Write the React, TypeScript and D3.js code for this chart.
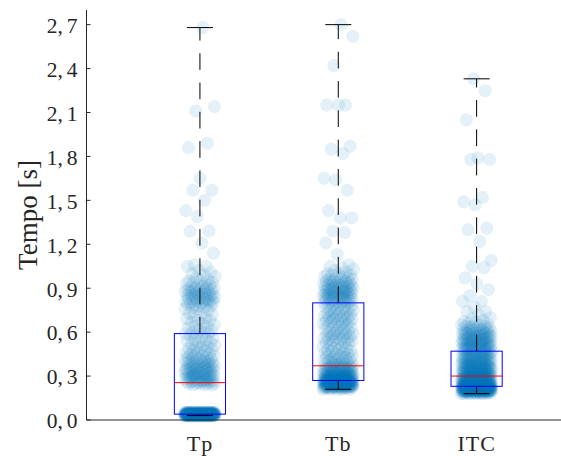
import React from "react";
import * as d3 from "d3";

// Category names along the x axis
const categories = ["Tp", "Tb", "ITC"];
// Y axis ticks [s]
const yTicks = [0, 0.3, 0.6, 0.9, 1.2, 1.5, 1.8, 2.1, 2.4, 2.7];

// Measured times [s], as [value, number of runs with that value]
const tpTimes: [number, number][] = [
  [0.03, 48], [0.04, 104], [0.05, 40],
  [0.24, 3], [0.25, 5],
  [0.26, 5], [0.27, 4], [0.28, 5], [0.29, 5], [0.3, 5], [0.31, 5], [0.32, 4], [0.33, 5], [0.34, 4], [0.35, 5],
  [0.36, 4], [0.37, 4], [0.38, 4], [0.39, 4], [0.4, 3], [0.41, 3], [0.42, 3], [0.43, 2], [0.44, 3], [0.45, 2],
  [0.46, 2], [0.47, 2], [0.48, 1], [0.49, 2], [0.5, 2], [0.51, 2], [0.52, 1], [0.53, 2], [0.54, 1], [0.55, 2],
  [0.56, 1], [0.57, 1], [0.58, 1], [0.59, 3],
  [0.6, 2], [0.61, 1], [0.62, 1], [0.63, 1], [0.64, 2], [0.65, 1], [0.66, 1], [0.67, 1], [0.68, 2], [0.69, 1],
  [0.7, 1], [0.71, 1], [0.72, 2], [0.73, 1],
  [0.75, 1], [0.76, 2], [0.77, 2], [0.78, 2], [0.79, 3], [0.8, 3], [0.81, 3], [0.82, 3], [0.83, 3], [0.84, 3],
  [0.85, 4], [0.86, 4], [0.87, 3], [0.88, 3], [0.89, 3], [0.9, 3], [0.91, 2], [0.92, 2], [0.93, 2], [0.94, 2],
  [0.95, 2], [0.96, 1], [0.97, 1], [0.98, 1], [0.99, 1], [1.0, 1], [1.01, 1], [1.02, 1],
  [1.05, 2], [1.06, 1], [1.14, 1], [1.21, 1], [1.29, 2], [1.39, 1], [1.43, 1], [1.5, 1], [1.57, 2], [1.65, 1],
  [1.86, 1], [1.89, 1], [2.11, 1], [2.14, 1], [2.68, 1],
];

const tbTimes: [number, number][] = [
  [0.21, 5], [0.22, 11], [0.23, 19], [0.24, 22], [0.25, 22], [0.26, 20], [0.27, 18],
  [0.28, 14], [0.29, 13], [0.3, 11], [0.31, 9], [0.32, 8], [0.33, 7], [0.34, 7], [0.35, 6], [0.36, 6], [0.37, 5],
  [0.38, 3], [0.39, 3], [0.4, 3], [0.41, 3], [0.42, 2], [0.43, 3], [0.44, 2], [0.45, 3], [0.46, 2], [0.47, 2],
  [0.48, 2], [0.49, 2], [0.5, 2], [0.51, 1], [0.52, 2], [0.53, 2], [0.54, 2], [0.55, 3], [0.56, 2], [0.57, 3],
  [0.58, 2], [0.59, 3], [0.6, 2], [0.61, 2], [0.62, 2], [0.63, 2], [0.64, 2], [0.65, 2], [0.66, 2], [0.67, 3],
  [0.68, 2], [0.69, 3], [0.7, 2], [0.71, 3], [0.72, 2], [0.73, 2], [0.74, 2], [0.75, 3], [0.76, 2], [0.77, 2],
  [0.78, 2], [0.79, 2], [0.8, 3],
  [0.81, 4], [0.82, 4], [0.83, 5], [0.84, 4], [0.85, 5], [0.86, 4], [0.87, 5], [0.88, 4], [0.89, 5], [0.9, 4],
  [0.91, 4], [0.92, 4], [0.93, 4], [0.94, 3], [0.95, 3], [0.96, 3], [0.97, 2], [0.98, 2], [0.99, 2], [1.0, 2],
  [1.01, 1], [1.02, 1], [1.03, 1], [1.04, 1], [1.05, 1], [1.06, 1],
  [1.13, 1], [1.21, 1], [1.28, 1], [1.29, 1], [1.38, 2], [1.43, 1], [1.57, 1], [1.64, 1], [1.65, 1], [1.82, 1],
  [1.85, 1], [1.87, 1], [2.15, 3], [2.42, 1], [2.62, 1], [2.7, 1],
];

const itcTimes: [number, number][] = [
  [0.18, 8], [0.19, 18], [0.2, 28], [0.21, 32], [0.22, 34], [0.23, 30], [0.24, 22], [0.25, 20], [0.26, 16],
  [0.27, 14], [0.28, 13], [0.29, 12], [0.3, 10], [0.31, 10], [0.32, 10], [0.33, 9], [0.34, 9], [0.35, 8],
  [0.36, 8], [0.37, 8], [0.38, 7], [0.39, 7], [0.4, 7], [0.41, 7], [0.42, 6], [0.43, 6], [0.44, 5], [0.45, 5],
  [0.46, 5], [0.47, 5],
  [0.48, 6], [0.49, 6], [0.5, 6], [0.51, 6], [0.52, 6], [0.53, 6], [0.54, 6], [0.55, 6], [0.56, 5], [0.57, 5],
  [0.58, 5], [0.59, 5], [0.6, 5], [0.61, 4], [0.62, 4], [0.63, 3], [0.64, 3], [0.65, 2], [0.66, 2], [0.67, 2],
  [0.68, 1], [0.69, 1], [0.7, 1],
  [0.72, 1], [0.74, 2], [0.77, 1], [0.81, 2], [0.85, 1], [0.89, 1], [0.93, 1], [0.97, 1], [1.04, 1], [1.05, 1],
  [1.09, 1], [1.22, 1], [1.3, 1], [1.31, 1], [1.47, 1], [1.49, 1], [1.52, 1], [1.78, 2], [1.79, 1], [2.05, 1],
  [2.25, 1], [2.33, 1],
];

const WIDTH = 561;
const HEIGHT = 456;
const AXIS_COLOR = "#262626";
const POINT_COLOR = "#0072BD";
const FONT = "'Liberation Serif', 'Times New Roman', serif";

const expand = (pairs: [number, number][]) =>
  pairs.flatMap(([v, n]) => Array.from({ length: n }, () => v));

// Deterministic horizontal spread in [-1, 1) (golden-ratio sequence)
const spread = (i: number) => ((i * 0.6180339887498949) % 1) * 2 - 1;

export default function App() {
  const x = d3.scaleLinear().domain([0.18, 3.61]).range([86.5, 561]);
  const y = d3.scaleLinear().domain([0, 2.8]).range([420, 10]);

  const groups = [tpTimes, tbTimes, itcTimes].map(expand);
  const stats = groups.map((vals) => ({
    min: d3.min(vals) as number,
    q1: d3.quantile(vals, 0.25) as number,
    med: d3.quantile(vals, 0.5) as number,
    q3: d3.quantile(vals, 0.75) as number,
    max: d3.max(vals) as number,
  }));

  const boxHalf = 0.185;
  const capHalf = 0.094;
  const jitter = 0.11;
  const r = 6.6;
  const [x0, x1] = x.range();
  const [yBottom, yTop] = y.range();

  return (
    <svg
      width={WIDTH}
      height={HEIGHT}
      style={{ position: "absolute", left: 0, top: 0, background: "#fff" }}
      fontFamily={FONT}
    >
      <rect width={WIDTH} height={HEIGHT} fill="#fff" />

      {/* jittered samples */}
      {groups.map((vals, k) => (
        <g key={`pts-${k}`} fill={POINT_COLOR} fillOpacity={0.1}>
          {vals.map((v, i) => (
            <circle key={i} cx={x(k + 1 + spread(i) * jitter)} cy={y(v)} r={r} />
          ))}
        </g>
      ))}

      {/* box plots */}
      {stats.map((s, k) => {
        const c = k + 1;
        const cx = x(c);
        return (
          <g key={`box-${k}`}>
            <line x1={cx} x2={cx} y1={y(s.q3)} y2={y(s.max)} stroke="#000" strokeWidth={1} strokeDasharray="16.7 12.6" />
            <line x1={cx} x2={cx} y1={y(s.q1)} y2={y(s.min)} stroke="#000" strokeWidth={1} strokeDasharray="16.7 12.6" />
            <line x1={x(c - capHalf)} x2={x(c + capHalf)} y1={y(s.max)} y2={y(s.max)} stroke="#000" strokeWidth={1} />
            <line x1={x(c - capHalf)} x2={x(c + capHalf)} y1={y(s.min)} y2={y(s.min)} stroke="#000" strokeWidth={1} />
            <rect
              x={x(c - boxHalf)}
              y={y(s.q3)}
              width={x(c + boxHalf) - x(c - boxHalf)}
              height={y(s.q1) - y(s.q3)}
              fill="none"
              stroke="#0000ff"
              strokeWidth={1}
            />
            <line x1={x(c - boxHalf)} x2={x(c + boxHalf)} y1={y(s.med)} y2={y(s.med)} stroke="#ff0000" strokeWidth={1} />
          </g>
        );
      })}

      {/* axes */}
      <line x1={x0} x2={x0} y1={yBottom} y2={yTop} stroke={AXIS_COLOR} strokeWidth={1} />
      <line x1={x0} x2={x1} y1={yBottom} y2={yBottom} stroke={AXIS_COLOR} strokeWidth={1} />
      {yTicks.map((t) => {
        const [a, b] = t.toFixed(1).split(".");
        return (
          <g key={`yt-${t}`}>
            <line x1={x0} x2={x0 + 4} y1={y(t)} y2={y(t)} stroke={AXIS_COLOR} strokeWidth={1} />
            <text x={77.5} y={y(t) + 8.3} textAnchor="end" fontSize={21.5} fill={AXIS_COLOR}>
              {a},<tspan dx={4}>{b}</tspan>
            </text>
          </g>
        );
      })}
      {categories.map((name, k) => (
        <text
          key={`xt-${name}`}
          x={x(k + 1)}
          y={451}
          textAnchor="middle"
          fontSize={22}
          letterSpacing={1}
          fill={AXIS_COLOR}
        >
          {name}
        </text>
      ))}
      <text
        transform={`translate(37,215) rotate(-90)`}
        textAnchor="middle"
        fontSize={27}
        fill={AXIS_COLOR}
      >
        Tempo [s]
      </text>
    </svg>
  );
}
